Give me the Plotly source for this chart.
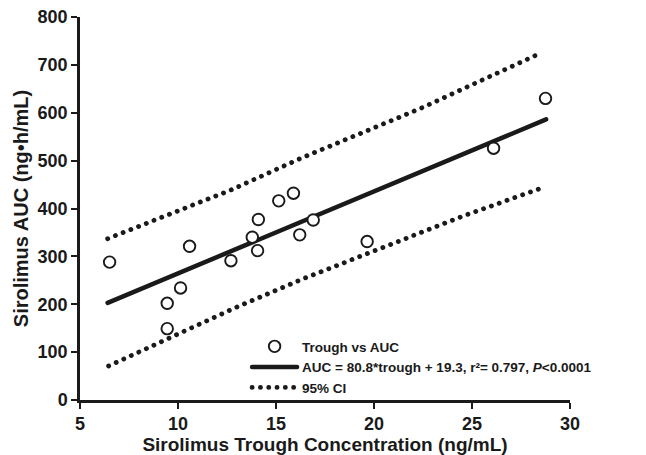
import plotly.graph_objects as go

trough = [6.51, 9.45, 9.45, 10.13, 10.59, 12.70, 13.79, 14.06, 14.10, 15.14, 15.89, 16.21, 16.90, 19.65, 26.10, 28.75]
auc = [288, 149, 202, 234, 321, 291, 340, 312, 377, 416, 432, 345, 376, 331, 526, 630]

# Regression line (end points as drawn)
fit_x = [6.41, 28.78]
fit_y = [203, 586]

# 95% confidence band
ci_upper_x = [6.41, 12.72, 16.33, 22.43, 28.53]
ci_upper_y = [337, 439, 506, 610, 725]
ci_lower_x = [6.46, 12.94, 16.25, 19.55, 24.46, 28.70]
ci_lower_y = [71, 193, 251, 303, 383, 445]

x_ticks = [5, 10, 15, 20, 25, 30]
y_ticks = [0, 100, 200, 300, 400, 500, 600, 700, 800]

INK = "#1a1a1a"
FONT = "Liberation Sans, Arial, sans-serif"
DOT = "0.1px,8.2px"

fig = go.Figure()

fig.add_trace(go.Scatter(
    x=ci_upper_x, y=ci_upper_y, mode="lines", name="95% CI",
    line=dict(color=INK, width=4.8, dash=DOT), legendrank=3, showlegend=True,
))
fig.add_trace(go.Scatter(
    x=ci_lower_x, y=ci_lower_y, mode="lines", name="95% CI",
    line=dict(color=INK, width=4.8, dash=DOT), legendrank=4, showlegend=False,
))
fig.add_trace(go.Scatter(
    x=fit_x, y=fit_y, mode="lines",
    name="AUC = 80.8*trough + 19.3, r²= 0.797, <i>P</i><0.0001",
    line=dict(color=INK, width=4.5), legendrank=2,
))
fig.add_trace(go.Scatter(
    x=trough, y=auc, mode="markers", name="Trough vs AUC",
    marker=dict(symbol="circle", size=11.5, color="white", line=dict(color=INK, width=1.9)),
    legendrank=1,
))

axis_common = dict(
    showgrid=False, zeroline=False, showline=True, linecolor=INK, linewidth=2.5,
    ticks="outside", ticklen=6, tickwidth=2.2, tickcolor=INK, automargin=False,
    tickfont=dict(family=FONT, size=18, color=INK, weight="bold"),
)

fig.update_layout(
    width=646, height=455,
    margin=dict(l=80, r=76, t=17, b=55),
    paper_bgcolor="white", plot_bgcolor="white",
    xaxis=dict(range=[5, 30], tickvals=x_ticks, ticktext=[str(v) for v in x_ticks],
               title=dict(text="Sirolimus Trough Concentration (ng/mL)", standoff=1,
                          font=dict(family=FONT, size=19, color=INK, weight="bold")),
               **axis_common),
    yaxis=dict(range=[0, 800], tickvals=y_ticks, ticktext=[str(v) for v in y_ticks],
               title=dict(text="Sirolimus AUC (ng•h/mL)", standoff=4,
                          font=dict(family=FONT, size=20, color=INK, weight="bold")),
               **axis_common),
    legend=dict(x=0.341, y=0.180, xanchor="left", yanchor="top", itemwidth=45,
                bgcolor="rgba(0,0,0,0)", borderwidth=0, tracegroupgap=0,
                font=dict(family=FONT, size=13.5, color=INK, weight="bold")),
    showlegend=True,
)

post = """
var s=document.createElement('style');
s.textContent='html,body{margin:0;padding:0;overflow:hidden;} path.js-line{stroke-linecap:round;}';
document.head.appendChild(s);
"""

fig.write_html("out.html", post_script=post, config={"displayModeBar": False})
